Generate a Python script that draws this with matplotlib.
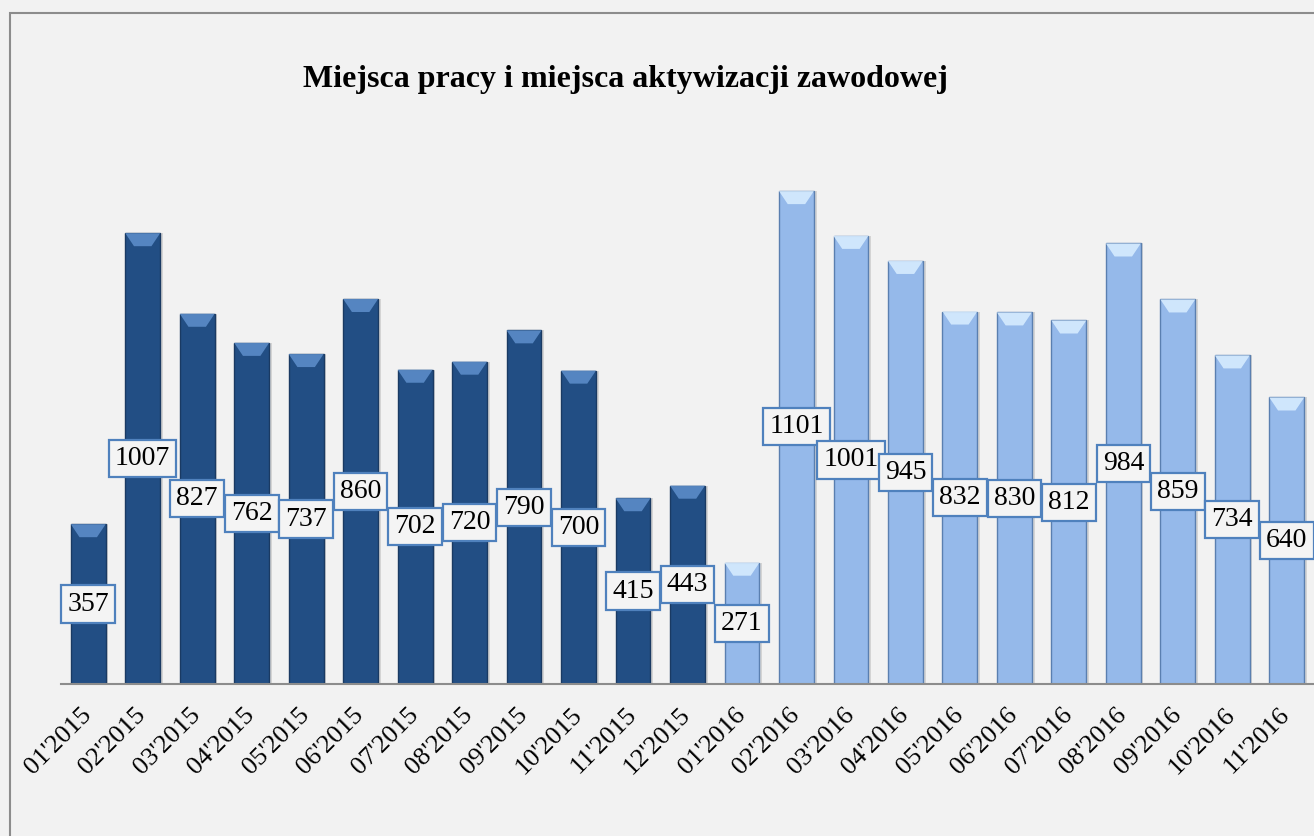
import matplotlib as mpl
import matplotlib.pyplot as plt
from matplotlib.patches import Polygon, Rectangle
from matplotlib.transforms import ScaledTranslation
import numpy as np

# Monthly counts, 01'2015 .. 11'2016
months = ["01'2015", "02'2015", "03'2015", "04'2015", "05'2015", "06'2015",
          "07'2015", "08'2015", "09'2015", "10'2015", "11'2015", "12'2015",
          "01'2016", "02'2016", "03'2016", "04'2016", "05'2016", "06'2016",
          "07'2016", "08'2016", "09'2016", "10'2016", "11'2016"]
values = [357, 1007, 827, 762, 737, 860, 702, 720, 790, 700, 415, 443,
          271, 1101, 1001, 945, 832, 830, 812, 984, 859, 734, 640]
years = [m[-4:] for m in months]

title = 'Miejsca pracy i miejsca aktywizacji zawodowej'
colors = {'2015': '#224e84', '2016': '#95b9ea'}
bevel = {'2015': '#5b8cc8', '2016': '#d6ecff'}
edges = {'2015': '#1a3a63', '2016': '#5a7fb0'}

mpl.rc('font', family=['Liberation Serif', 'DejaVu Serif'])

fig = plt.figure(figsize=(13.14, 8.36), dpi=100)
fig.patch.set_facecolor('#f2f2f2')
fig.patches.append(Rectangle((10 / 1314, -0.1), 1.2, 1.1 - 13 / 836,
                             transform=fig.transFigure, fill=False,
                             edgecolor='#8c8c8c', linewidth=1.5))

ax = fig.add_axes([61 / 1314, 1 - 684 / 836, 1253 / 1314, 0.6426])
ax.set_facecolor('#f2f2f2')
x = np.arange(len(values))
width = 0.64
ymax = 1200
bar_colors = [colors[y] for y in years]
bar_edges = [edges[y] for y in years]
# soft shadow to the right of the bars
ax.bar(x + 0.05, values, width=width, color='#d4d4d4', linewidth=0,
       zorder=1)
ax.bar(x, values, width=width, color=bar_colors, edgecolor=bar_edges,
       linewidth=1.0, zorder=2)

# bevelled top of each bar
bh = ymax * 13 / 537
inset = width * 0.25
for xi, v, yr in zip(x, values, years):
    l, r = xi - width / 2, xi + width / 2
    poly = Polygon([(l, v), (r, v), (r - inset, v - bh), (l + inset, v - bh)],
                   closed=True, facecolor=bevel[yr], edgecolor='none',
                   alpha=0.9, zorder=3)
    ax.add_patch(poly)

# value labels in the middle of each bar (the tallest one was moved up a bit)
for xi, v in zip(x, values):
    ypos = v / 2
    if v == max(values):
        ypos += 24
    ax.text(xi, ypos, str(v), ha='center', va='center', fontsize=20,
            zorder=5,
            bbox=dict(boxstyle='square,pad=0.22', facecolor='#f4f4f4',
                      edgecolor='#4f81bd', linewidth=1.6))

ax.set_xlim(-0.5, len(values) - 0.5)
ax.set_ylim(0, ymax)
ax.set_xticks(x)
ax.set_xticklabels(months, rotation=45, ha='right', va='top',
                   rotation_mode='anchor', fontsize=19)
ax.tick_params(axis='x', length=0, pad=14)
shift = ScaledTranslation(-8 / 100, 0, fig.dpi_scale_trans)
for lbl in ax.get_xticklabels():
    lbl.set_transform(lbl.get_transform() + shift)
ax.set_yticks([])
for s in ('top', 'right', 'left'):
    ax.spines[s].set_visible(False)
ax.spines['bottom'].set_color('#8c8c8c')
ax.spines['bottom'].set_linewidth(1.5)

fig.text(625 / 1314, 1 - 80 / 836, title, ha='center', va='center',
         fontsize=23, fontweight='bold')

fig.savefig('out.png', dpi=100, facecolor=fig.get_facecolor())
